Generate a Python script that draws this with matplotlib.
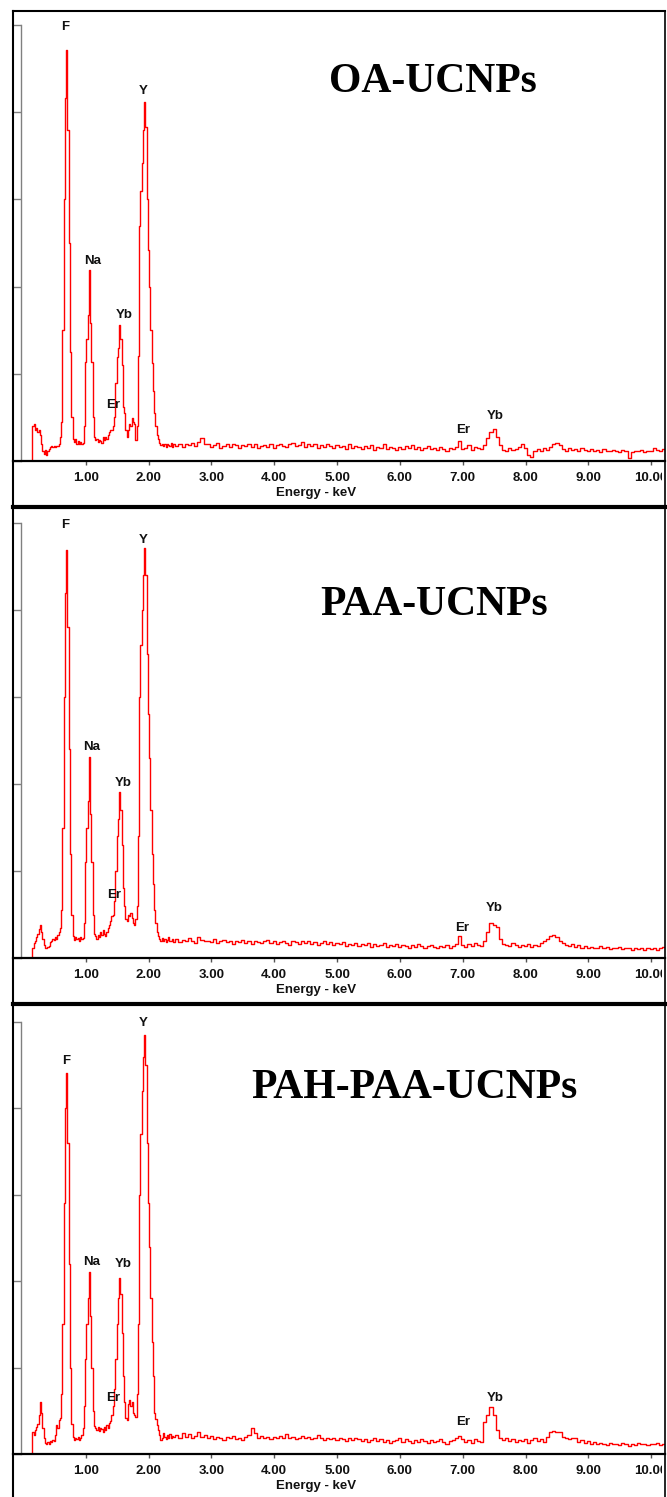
# EDS spectra of the three UCNP samples, stacked the way the instrument printout looks.

import numpy as np
import matplotlib
matplotlib.use('Agg')
import matplotlib.pyplot as plt
from matplotlib.lines import Line2D
from matplotlib.transforms import Bbox, TransformedBbox

# channel energies in keV: fine steps over the light element peaks, coarser above
e_low = np.round(np.arange(0.0, 2.401, 0.02), 2)
e_high = np.round(np.arange(2.45, 10.201, 0.05), 2)
energy = np.concatenate([e_low, e_high])

samples = ['OA-UCNPs', 'PAA-UCNPs', 'PAH-PAA-UCNPs']

# counts, 0.00 - 2.40 keV
oa_low = [0, 0, 0, 0, 0, 0, 0, 0, 40, 42,
          36, 38, 33, 35, 30, 20, 12, 8, 13, 7,
          12, 14, 16, 17, 16, 17, 16, 17, 17, 20,
          27, 45, 150, 300, 416, 471, 380, 250, 125, 50,
          25, 22, 25, 20, 23, 19, 22, 20, 21, 40,
          114, 140, 167, 219, 158, 114, 50, 27, 24, 25,
          22, 24, 23, 21, 27, 24, 27, 25, 30, 33,
          35, 36, 40, 50, 90, 119, 130, 156, 140, 110,
          62, 55, 35, 28, 35, 43, 40, 49, 45, 42,
          24, 40, 120, 270, 310, 342, 380, 412, 383, 300,
          242, 200, 150, 112, 80, 55, 40, 30, 25, 21,
          18, 20, 17, 19, 16, 20, 18, 17, 21, 16,
          19]
# counts, 2.45 - 10.20 keV
oa_high = [17, 20, 16, 19, 18, 21, 17, 22, 26, 19,
           20, 16, 18, 21, 15, 17, 19, 16, 20, 18,
           15, 18, 17, 20, 16, 19, 15, 17, 18, 16,
           19, 15, 18, 20, 17, 16, 19, 21, 17, 18,
           22, 16, 19, 17, 20, 15, 18, 16, 19, 17,
           15, 18, 16, 17, 14, 19, 15, 17, 16, 14,
           17, 15, 18, 13, 16, 15, 19, 14, 16, 15,
           13, 16, 14, 17, 15, 18, 14, 16, 13, 15,
           17, 14, 15, 13, 16, 14, 12, 15, 14, 16,
           23, 14, 15, 18, 13, 16, 15, 14, 18, 26,
           33, 37, 28, 18, 13, 12, 15, 13, 14, 16,
           20, 15, 7, 5, 11, 14, 12, 15, 13, 16,
           20, 21, 18, 14, 12, 15, 13, 14, 12, 15,
           13, 12, 14, 11, 13, 10, 14, 12, 11, 13,
           12, 10, 13, 11, 3, 10, 12, 11, 13, 10,
           12, 11, 15, 13, 11, 14]

paa_low = [0, 0, 0, 0, 0, 0, 0, 0, 12, 17,
           20, 24, 28, 33, 38, 30, 22, 15, 12, 11,
           13, 14, 18, 20, 22, 21, 24, 22, 26, 30,
           35, 55, 150, 300, 420, 469, 380, 240, 120, 50,
           25, 21, 24, 22, 23, 20, 24, 22, 23, 40,
           110, 150, 180, 231, 165, 110, 50, 28, 25, 22,
           27, 24, 30, 26, 32, 28, 25, 30, 34, 38,
           42, 48, 50, 65, 100, 140, 160, 191, 170, 130,
           80, 60, 45, 42, 50, 48, 52, 46, 40, 38,
           45, 60, 140, 300, 360, 400, 440, 471, 440, 350,
           280, 230, 170, 120, 85, 55, 40, 30, 25, 22,
           20, 23, 19, 22, 18, 21, 24, 19, 20, 22,
           18]
paa_high = [22, 18, 21, 19, 23, 20, 17, 24, 21, 19,
            20, 18, 22, 17, 19, 21, 18, 20, 16, 19,
            18, 21, 17, 19, 16, 20, 18, 17, 19, 21,
            17, 19, 16, 18, 20, 17, 15, 19, 18, 16,
            19, 17, 20, 16, 18, 15, 17, 19, 16, 18,
            15, 17, 16, 18, 14, 16, 15, 17, 14, 16,
            15, 17, 13, 16, 14, 15, 17, 13, 15, 14,
            16, 13, 15, 14, 12, 15, 13, 16, 14, 12,
            14, 15, 13, 12, 14, 13, 15, 12, 14, 16,
            25, 15, 13, 16, 14, 17, 15, 14, 20, 30,
            40, 38, 36, 22, 16, 15, 14, 17, 15, 13,
            15, 14, 16, 13, 15, 14, 17, 19, 22, 25,
            26, 24, 20, 17, 15, 14, 16, 13, 15, 12,
            14, 12, 13, 11, 12, 14, 11, 13, 10, 12,
            11, 13, 10, 12, 11, 9, 12, 10, 11, 9,
            11, 10, 12, 9, 11, 13]

pah_low = [0, 0, 0, 0, 0, 0, 0, 0, 25, 22,
           28, 31, 35, 45, 60, 48, 30, 18, 13, 11,
           14, 12, 15, 14, 16, 15, 22, 34, 30, 39,
           42, 70, 150, 290, 400, 441, 360, 220, 100, 35,
           20, 16, 19, 17, 20, 16, 18, 22, 30, 55,
           110, 150, 180, 211, 160, 100, 50, 32, 30, 28,
           31, 27, 30, 29, 26, 31, 28, 33, 30, 36,
           38, 45, 55, 75, 110, 150, 180, 204, 185, 140,
           90, 60, 42, 39, 58, 62, 55, 60, 48, 45,
           43, 70, 150, 300, 370, 420, 460, 485, 450, 360,
           290, 240, 180, 130, 90, 48, 40, 33, 28, 22,
           16, 18, 24, 20, 17, 22, 19, 23, 18, 21,
           20]
pah_high = [22, 19, 24, 20, 23, 18, 21, 25, 20, 22,
            18, 21, 17, 20, 19, 16, 20, 18, 21, 17,
            19, 16, 20, 22, 30, 24, 19, 21, 18, 20,
            17, 20, 18, 21, 19, 23, 18, 20, 17, 19,
            21, 18, 20, 17, 19, 22, 18, 16, 19, 17,
            18, 16, 19, 17, 15, 18, 16, 19, 17, 15,
            17, 14, 16, 18, 15, 17, 14, 16, 13, 15,
            16, 18, 14, 17, 15, 13, 16, 14, 17, 15,
            13, 16, 14, 15, 17, 14, 12, 15, 16, 18,
            21, 17, 14, 16, 13, 17, 15, 14, 37, 45,
            54, 45, 28, 19, 16, 18, 15, 17, 14, 16,
            15, 17, 13, 16, 18, 15, 17, 14, 20, 26,
            27, 26, 25, 20, 19, 17, 19, 18, 14, 16,
            13, 15, 12, 14, 11, 13, 12, 10, 13, 11,
            12, 10, 13, 11, 9, 12, 10, 13, 11, 12,
            10, 12, 11, 13, 10, 12]

spectra = [oa_low + oa_high, paa_low + paa_high, pah_low + pah_high]
xtick_vals = [1, 2, 3, 4, 5, 6, 7, 8, 9, 10]

# element labels: (text, keV, counts) where the printout puts them
peak_labels = [
    [('F', 0.67, 498), ('Y', 1.91, 424), ('Na', 1.11, 229), ('Yb', 1.61, 167),
     ('Er', 1.43, 64), ('Er', 7.01, 36), ('Yb', 7.52, 52)],
    [('F', 0.67, 498), ('Y', 1.91, 480), ('Na', 1.10, 242), ('Yb', 1.59, 201),
     ('Er', 1.45, 72), ('Er', 6.99, 35), ('Yb', 7.50, 57)],
    [('F', 0.685, 455), ('Y', 1.91, 499), ('Na', 1.10, 222), ('Yb', 1.59, 220),
     ('Er', 1.43, 65), ('Er', 7.01, 37), ('Yb', 7.52, 65)],
]

# layout in pixels of the 667x1497 picture
W, H = 667, 1497
panel_px = [(25, 461), (523, 958), (1022, 1454)]   # top of y axis, x axis line
title_px = [(433, 82), (434, 605), (414, 1088)]

def fx(px):
    return px / W

def fy(py):
    return 1 - py / H

fig = plt.figure(figsize=(W / 100, H / 100), dpi=100)
sans = ['Liberation Sans', 'DejaVu Sans']
# the printout cuts the last tick label at the right frame
label_clip = TransformedBbox(Bbox.from_extents(0, 0, fx(662), 1), fig.transFigure)

for i, (top, bot) in enumerate(panel_px):
    ax = fig.add_axes([fx(21), fy(bot), fx(665) - fx(21), (bot - top) / H])
    ax.plot(energy, spectra[i], drawstyle='steps-mid', color='#ff0000', lw=1.0)
    ax.set_xlim(-0.03, 10.22)
    ax.set_ylim(0, 500)

    for s in ['top', 'right', 'bottom']:
        ax.spines[s].set_visible(False)
    ax.spines['left'].set_color('#808080')
    ax.spines['left'].set_linewidth(1.0)

    ax.set_yticks(range(0, 501, 100))
    ax.tick_params(axis='y', length=5.8, width=1.0, color='#808080',
                   labelleft=False)
    ax.set_xticks(xtick_vals)
    ax.set_xticklabels([f'{v:.2f}' for v in xtick_vals], fontsize=9.5,
                       fontweight='bold', family=sans, color='#111111')
    ax.tick_params(axis='x', length=3, width=1.0, color='#555555', pad=5)

    ax.annotate('Energy - keV', xy=(4.67, 0), xycoords=('data', 'axes fraction'),
                xytext=(0, -32 * 0.72), textcoords='offset points',
                ha='center', va='center', fontsize=9.5, fontweight='bold',
                family=sans, color='#111111')

    for txt, ex, cy in peak_labels[i]:
        ax.text(ex, cy, txt, ha='center', va='center', fontsize=9.5,
                fontweight='bold', family=sans, color='#111111', clip_on=False)

    tx, ty = title_px[i]
    fig.text(fx(tx), fy(ty), samples[i], ha='center', va='center',
             fontsize=30, fontweight='bold',
             family=['Liberation Serif', 'DejaVu Serif'])

    # black x axis line running out to the frame
    fig.add_artist(Line2D([fx(13), fx(665)], [fy(bot), fy(bot)],
                          color='black', lw=1.6))

    fig.canvas.draw()
    for lbl in ax.get_xticklabels():
        lbl.set_clip_on(True)
        lbl.set_clip_box(label_clip)

# outer frame of the printout
frame = [
    ([13, 13], [11, 1497], 1.5),
    ([13, 665], [11, 11], 1.5),
    ([665, 665], [11, 1497], 1.2),
    ([13, 667], [507, 507], 3.0),
    ([13, 667], [1004, 1004], 3.0),
]
for xs, ys, lw in frame:
    fig.add_artist(Line2D([fx(v) for v in xs], [fy(v) for v in ys],
                          color='black', lw=lw))

fig.savefig('out.png', dpi=100, facecolor='white')
